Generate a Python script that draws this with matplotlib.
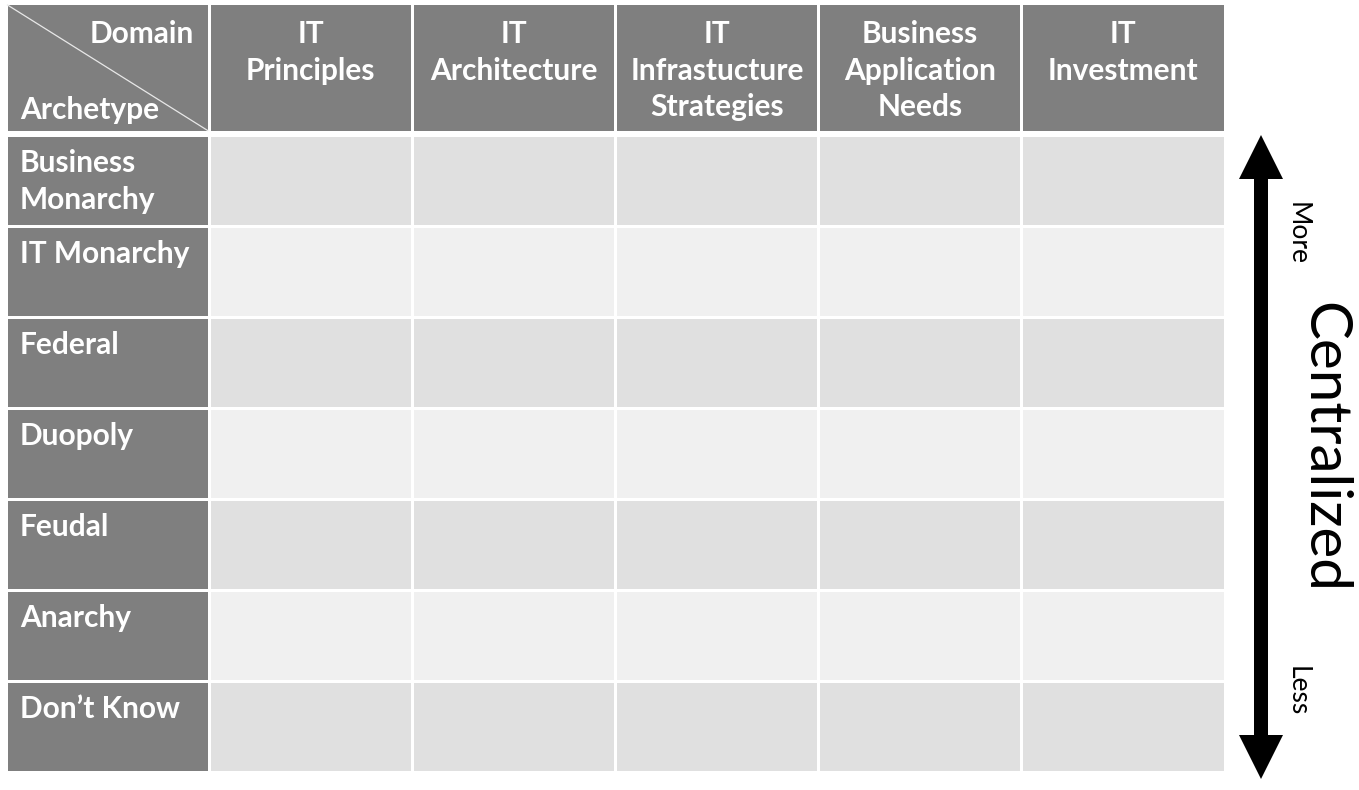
import matplotlib.pyplot as plt
from matplotlib.patches import Rectangle, FancyArrow

domains = ["IT\nPrinciples", "IT\nArchitecture", "IT\nInfrastucture\nStrategies",
           "Business\nApplication\nNeeds", "IT\nInvestment"]
archetypes = ["Business\nMonarchy", "IT Monarchy", "Federal", "Duopoly",
              "Feudal", "Anarchy", "Don\u2019t Know"]

W, H = 1359, 790
HEAD_GRAY = "#7f7f7f"
ROW_DARK = "#e0e0e0"
ROW_LIGHT = "#f0f0f0"
FONT = "Lato"
FS = 21.5
LS = 1.38

fig = plt.figure(figsize=(W / 100, H / 100), dpi=100)
ax = fig.add_axes([0, 0, 1, 1])
ax.set_xlim(0, W)
ax.set_ylim(H, 0)
ax.axis("off")

# table geometry in pixels
x0, x1 = 6, 1225
y0, y_head, y_body, y1 = 5, 132, 135, 772
col_w = (x1 - x0) / (len(domains) + 1)
row_h = (y1 - y_body) / len(archetypes)
gap = 1.5


def cell(x, y, w, h, color):
    ax.add_patch(Rectangle((x + gap, y + gap), w - 2 * gap, h - 2 * gap,
                           facecolor=color, edgecolor="none"))


# header row
for j in range(len(domains) + 1):
    cell(x0 + j * col_w, y0 - gap, col_w, y_head - y0 + gap, HEAD_GRAY)
    if j > 0:
        ax.text(x0 + (j + 0.5) * col_w, 20, domains[j - 1], ha="center", va="top",
                color="white", fontsize=FS, fontweight="bold", family=FONT,
                linespacing=LS)

# corner label with diagonal
cx0, cx1 = x0 + gap, x0 + col_w - gap
ax.plot([cx0, cx1], [y0, y_head - gap], color="#e8e8e8", lw=0.9)
ax.text(cx1 - 14, 20, "Domain", ha="right", va="top", color="white",
        fontsize=FS, fontweight="bold", family=FONT)
ax.text(x0 + 14, y_head - 8, "Archetype", ha="left", va="bottom", color="white",
        fontsize=FS, fontweight="bold", family=FONT)

# body rows
for i, name in enumerate(archetypes):
    y = y_body + i * row_h
    fill = ROW_DARK if i % 2 == 0 else ROW_LIGHT
    cell(x0, y, col_w, row_h, HEAD_GRAY)
    for j in range(1, len(domains) + 1):
        cell(x0 + j * col_w, y, col_w, row_h, fill)
    ax.text(x0 + 14, y + 14, name, ha="left", va="top", color="white",
            fontsize=FS, fontweight="bold", family=FONT, linespacing=LS)

# double-headed arrow on the right
ax_x = 1261
ax.add_patch(FancyArrow(ax_x, 460, 0, -325, width=14, head_width=44,
                        head_length=44, length_includes_head=True,
                        color="black", lw=0))
ax.add_patch(FancyArrow(ax_x, 455, 0, 324, width=14, head_width=44,
                        head_length=44, length_includes_head=True,
                        color="black", lw=0))
ax.text(1297, 234, "More", rotation=270, ha="center", va="center",
        fontsize=19, family=FONT)
ax.text(1297, 691, "Less", rotation=270, ha="center", va="center",
        fontsize=19, family=FONT)
ax.text(1324, 447, "Centralized", rotation=270, ha="center", va="center",
        fontsize=42, family=FONT)

fig.savefig("out.png", dpi=100)
